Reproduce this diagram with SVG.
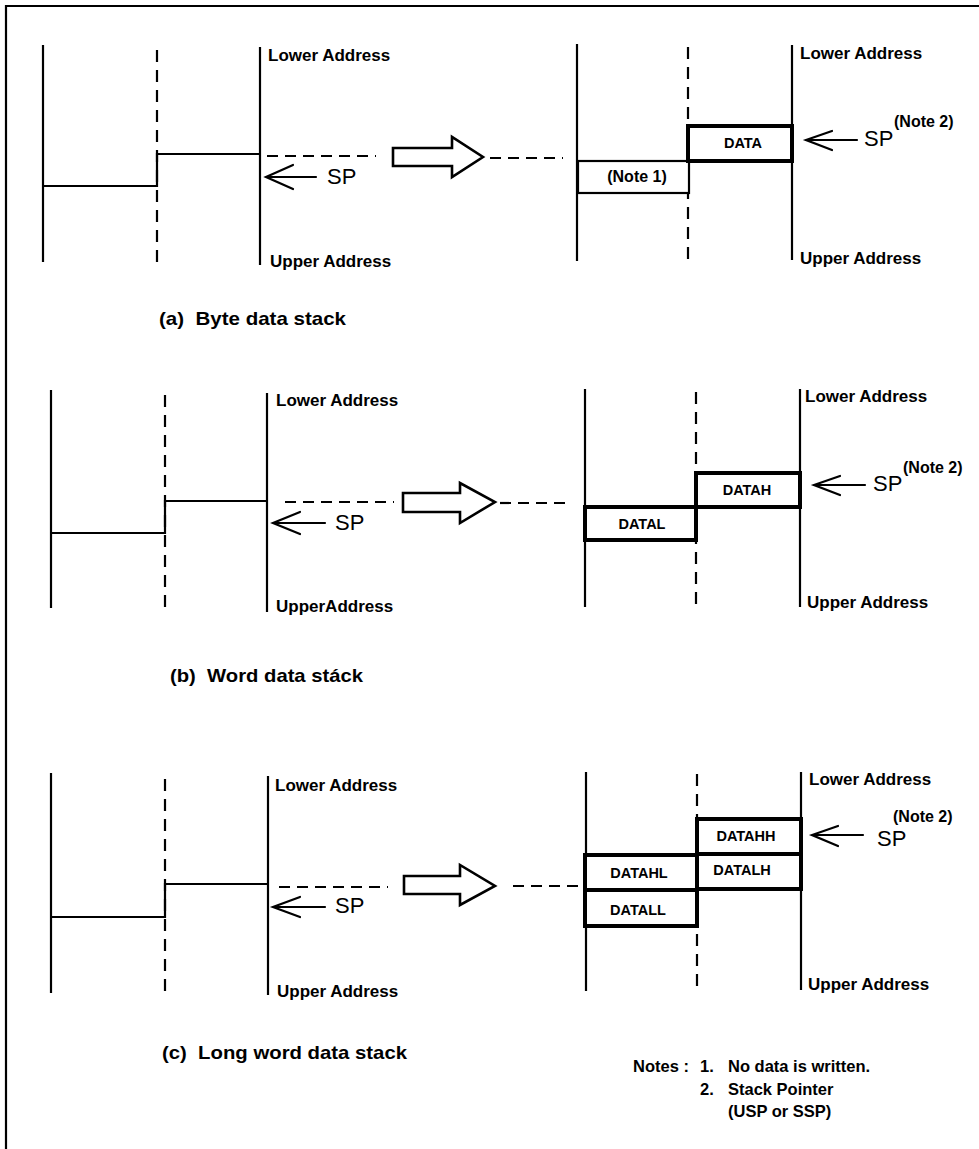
<svg xmlns="http://www.w3.org/2000/svg" width="979" height="1149" viewBox="0 0 979 1149">
<style>
  .bg{fill:#fff}
  .solid{stroke:#000;stroke-width:2.2;fill:none}
  .dash{stroke:#000;stroke-width:2.2;fill:none;stroke-dasharray:12,8}
  .hdash{stroke:#000;stroke-width:2.2;fill:none;stroke-dasharray:11,7}
  .thick{stroke:#000;stroke-width:4;fill:#fff}
  .thin{stroke:#000;stroke-width:2.2;fill:#fff}
  .big{stroke:#000;stroke-width:2.6;fill:#fff;stroke-linejoin:miter}
  .ptr{stroke:#000;stroke-width:2.2;fill:none;stroke-linecap:round}
  text{font-family:"Liberation Sans",Arial,sans-serif;fill:#000}
  .addr{font-size:17px;font-weight:bold}
  .sp{font-size:22px}
  .note{font-size:16px;font-weight:bold}
  .lbl{font-size:14.5px;font-weight:bold;text-anchor:middle}
  .cap{font-size:19px;font-weight:bold}
  .notes{font-size:16.5px;font-weight:bold}
</style>
<rect class="bg" x="0" y="0" width="979" height="1149"/>
<g id="frame">
  <path class="solid" d="M6,1149 V6 H979"/>
</g>

<!-- (a) -->
<g id="a-before">
  <line class="solid" x1="43" y1="45" x2="43" y2="262"/>
  <line class="dash" x1="157" y1="50" x2="157" y2="264"/>
  <line class="solid" x1="260" y1="47" x2="260" y2="265"/>
  <path class="solid" d="M43,186 H157 V154 H260"/>
  <text class="addr" x="268" y="61">Lower Address</text>
  <text class="addr" x="270" y="267">Upper Address</text>
  <text class="sp" x="327" y="184">SP</text>
</g>
<g id="a-after">
  <line class="solid" x1="577" y1="44" x2="577" y2="261"/>
  <line class="dash" x1="688" y1="47" x2="688" y2="261"/>
  <line class="solid" x1="792" y1="45" x2="792" y2="260"/>
  <rect class="thin" x="578" y="161" width="111" height="32"/>
  <rect class="thick" x="688" y="126" width="104" height="35"/>
  <text class="lbl" x="743" y="148">DATA</text>
  <text class="note" x="637" y="182" text-anchor="middle">(Note 1)</text>
  <text class="addr" x="800" y="59">Lower Address</text>
  <text class="addr" x="800" y="264">Upper Address</text>
  <text class="sp" x="864" y="146">SP</text>
  <text class="note" x="894" y="127">(Note 2)</text>
</g>
<text class="cap" x="159" y="325" xml:space="preserve" textLength="187" lengthAdjust="spacingAndGlyphs">(a)  Byte data stack</text>

<!-- (b) -->
<g id="b-before">
  <line class="solid" x1="51" y1="390" x2="51" y2="608"/>
  <line class="dash" x1="165" y1="395" x2="165" y2="612"/>
  <line class="solid" x1="267" y1="393" x2="267" y2="612"/>
  <path class="solid" d="M51,533 H165 V501 H267"/>
  <text class="addr" x="276" y="406">Lower Address</text>
  <text class="addr" x="276" y="612">UpperAddress</text>
  <text class="sp" x="335" y="530">SP</text>
</g>
<g id="b-after">
  <line class="solid" x1="585" y1="389" x2="585" y2="607"/>
  <line class="dash" x1="696" y1="392" x2="696" y2="607"/>
  <line class="solid" x1="800" y1="389" x2="800" y2="607"/>
  <rect class="thick" x="696" y="473" width="104" height="34"/>
  <rect class="thick" x="585" y="507" width="111" height="33"/>
  <text class="lbl" x="747" y="495">DATAH</text>
  <text class="lbl" x="642" y="529">DATAL</text>
  <text class="addr" x="805" y="402">Lower Address</text>
  <text class="addr" x="807" y="608">Upper Address</text>
  <text class="sp" x="873" y="491">SP</text>
  <text class="note" x="903" y="473">(Note 2)</text>
</g>
<text class="cap" x="170" y="682" xml:space="preserve" textLength="193" lengthAdjust="spacingAndGlyphs">(b)  Word data stáck</text>

<!-- (c) -->
<g id="c-before">
  <line class="solid" x1="51" y1="773" x2="51" y2="993"/>
  <line class="dash" x1="165" y1="779" x2="165" y2="997"/>
  <line class="solid" x1="268" y1="776" x2="268" y2="995"/>
  <path class="solid" d="M51,917 H165 V884 H268"/>
  <text class="addr" x="275" y="791">Lower Address</text>
  <text class="addr" x="277" y="997">Upper Address</text>
  <text class="sp" x="335" y="913">SP</text>
</g>
<g id="c-after">
  <line class="solid" x1="586" y1="772" x2="586" y2="991"/>
  <line class="dash" x1="697" y1="774" x2="697" y2="990"/>
  <line class="solid" x1="801" y1="772" x2="801" y2="990"/>
  <rect class="thick" x="697" y="819" width="104" height="35"/>
  <rect class="thick" x="697" y="854" width="104" height="35"/>
  <rect class="thick" x="585" y="855" width="112" height="35"/>
  <rect class="thick" x="585" y="890" width="112" height="36"/>
  <text class="lbl" x="746" y="841">DATAHH</text>
  <text class="lbl" x="742" y="875">DATALH</text>
  <text class="lbl" x="639" y="878">DATAHL</text>
  <text class="lbl" x="638" y="915">DATALL</text>
  <text class="addr" x="809" y="785">Lower Address</text>
  <text class="addr" x="808" y="990">Upper Address</text>
  <text class="sp" x="877" y="846">SP</text>
  <text class="note" x="893" y="822">(Note 2)</text>
</g>
<text class="cap" x="162" y="1059" xml:space="preserve" textLength="245" lengthAdjust="spacingAndGlyphs">(c)  Long word data stack</text>

<g id="notes">
  <text class="notes" x="633" y="1072">Notes :</text>
  <text class="notes" x="700" y="1072">1.</text>
  <text class="notes" x="728" y="1072">No data is written.</text>
  <text class="notes" x="700" y="1095">2.</text>
  <text class="notes" x="728" y="1095">Stack Pointer</text>
  <text class="notes" x="728" y="1117">(USP or SSP)</text>
</g>

<g id="connectors">
  <!-- (a) -->
  <line class="hdash" x1="267" y1="156" x2="376" y2="156"/>
  <polygon class="big" points="393,148 452,148 452,137 483,157 452,177 452,166 393,166"/>
  <line class="hdash" x1="490" y1="158" x2="563" y2="158"/>
  <path class="ptr" d="M316,177 H266 M293,165 L266,177 L293,189"/>
  <path class="ptr" d="M857,140 H806 M832,131 L806,140 L832,150"/>
  <!-- (b) -->
  <line class="hdash" x1="285" y1="502" x2="394" y2="502"/>
  <polygon class="big" points="403,493 460,493 460,483 495,502 460,523 460,512 403,512"/>
  <line class="hdash" x1="500" y1="503" x2="570" y2="503"/>
  <path class="ptr" d="M325,523 H273 M300,512 L273,523 L300,534"/>
  <path class="ptr" d="M865,485 H814 M840,476 L814,485 L840,495"/>
  <!-- (c) -->
  <line class="hdash" x1="279" y1="887" x2="388" y2="887"/>
  <polygon class="big" points="404,876 460,876 460,865 495,886 460,905 460,894 404,894"/>
  <line class="hdash" x1="513" y1="886" x2="578" y2="886"/>
  <path class="ptr" d="M325,907 H273 M300,897 L273,907 L300,917"/>
  <path class="ptr" d="M863,835 H812 M838,826 L812,835 L838,846"/>
</g>
</svg>
